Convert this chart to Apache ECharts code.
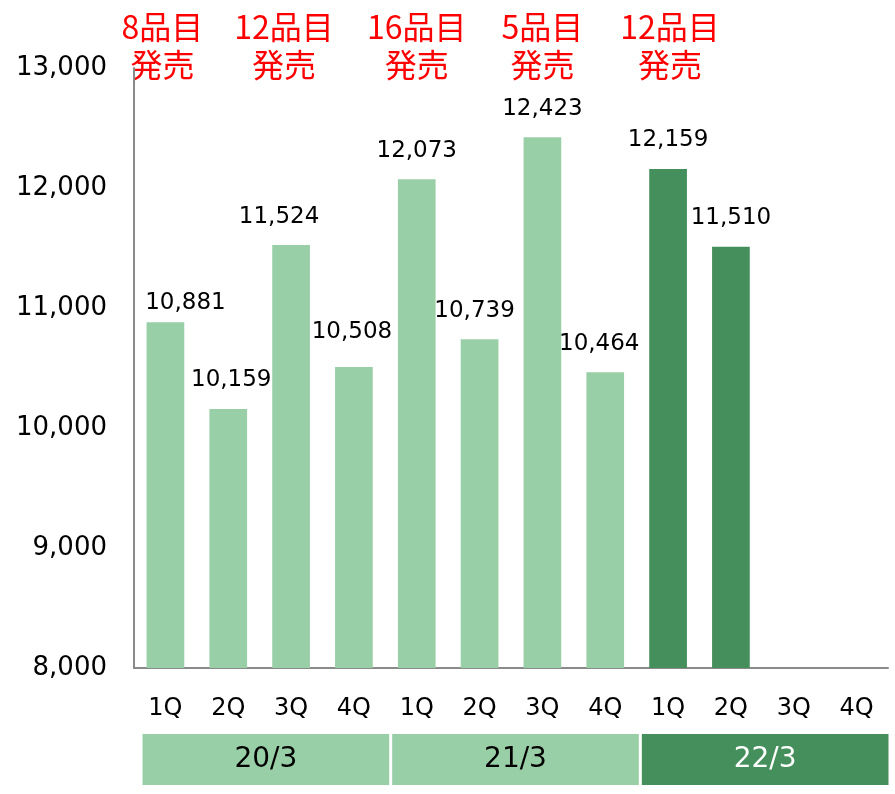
<!DOCTYPE html>
<html>
<head>
<meta charset="utf-8">
<script src="https://cdn.jsdelivr.net/npm/echarts@6/dist/echarts.min.js"></script>
<style>
  html, body { margin: 0; padding: 0; background: #fff; }
  #chart { width: 895px; height: 794px; }
</style>
</head>
<body>
<div id="chart"></div>
<script>
// quarters and sales values
const quarters = ['1Q', '2Q', '3Q', '4Q', '1Q', '2Q', '3Q', '4Q', '1Q', '2Q', '3Q', '4Q'];
const sales = [10881, 10159, 11524, 10508, 12073, 10739, 12423, 10464, 12159, 11510, null, null];
const fiscalYears = ['20/3', '21/3', '22/3'];
// annotation: category index -> text
const launchIdx = [0, 2, 4, 6, 8];
const launchText = ['8品目', '12品目', '16品目', '5品目', '12品目'];
const yTicks = [8000, 9000, 10000, 11000, 12000, 13000];

const LIGHT = '#99CFA7';
const DARK = '#448F5B';
const AXIS = '#8a8a8a';
const LATIN = '"DejaVu Sans", Verdana, sans-serif';
const CJK = '"Noto Sans CJK JP", sans-serif';

// hand nudges from the original slide ([dx, extra gap])
const labelNudge = { 0: [20, -9], 1: [3, 0], 2: [-12, 0], 3: [-2, 7], 5: [-5, 0], 7: [-6, 0] };
const noteNudgeX = { 0: -3, 1: -7, 4: 2 };

const chart = echarts.init(document.getElementById('chart'));

const fmt = v => String(v).replace(/\B(?=(\d{3})+(?!\d))/g, ',');

const option = {
  animation: false,
  grid: [
    { left: 134, right: 7, top: 68, bottom: 126 },
    { left: 141, right: 5, top: 734, height: 51 }
  ],
  xAxis: [{
    type: 'category',
    data: quarters,
    gridIndex: 0,
    axisLine: { lineStyle: { color: AXIS, width: 2 } },
    axisTick: { show: false },
    axisLabel: { color: '#000', fontSize: 24, fontFamily: LATIN, margin: 29 }
  }, {
    type: 'category',
    data: fiscalYears,
    gridIndex: 1,
    show: false
  }],
  yAxis: [{
    type: 'value',
    gridIndex: 0,
    min: yTicks[0],
    max: yTicks[yTicks.length - 1],
    interval: 1000,
    axisLine: { show: true, lineStyle: { color: AXIS, width: 2 } },
    axisTick: { show: false },
    splitLine: { show: false },
    axisLabel: { color: '#000', fontSize: 26, fontFamily: LATIN, margin: 27, formatter: fmt }
  }, {
    type: 'value',
    gridIndex: 1,
    min: 0,
    max: 1,
    show: false
  }],
  series: [{
    type: 'bar',
    xAxisIndex: 0,
    yAxisIndex: 0,
    barWidth: '60%',
    data: sales.map((v, i) => {
      const n = labelNudge[i] || [0, 0];
      return {
        value: v,
        itemStyle: { color: i >= 8 ? DARK : LIGHT },
        label: { distance: 17 + n[1], offset: [n[0], 0] }
      };
    }),
    label: {
      show: true,
      position: 'top',
      color: '#000',
      fontSize: 23,
      fontFamily: LATIN,
      formatter: p => fmt(p.value)
    }
  }, {
    type: 'bar',
    xAxisIndex: 1,
    yAxisIndex: 1,
    barWidth: '98.8%',
    data: fiscalYears.map((y, i) => ({
      value: 1,
      itemStyle: { color: i === 2 ? DARK : LIGHT },
      label: { color: i === 2 ? '#fff' : '#000' }
    })),
    label: {
      show: true,
      position: 'inside',
      fontSize: 28,
      fontFamily: LATIN,
      formatter: p => p.name
    }
  }]
};

chart.setOption(option);

// red annotations above selected bars
const graphics = launchIdx.map((idx, k) => {
  const x = chart.convertToPixel({ xAxisIndex: 0 }, idx);
  return {
    type: 'text',
    x: x + (noteNudgeX[k] || 0),
    y: 8,
    style: {
      text: launchText[k] + '\n発売',
      fill: '#FF0000',
      font: '32px ' + CJK,
      lineHeight: 38,
      align: 'center',
      verticalAlign: 'top'
    }
  };
});
chart.setOption({ graphic: graphics });
</script>
</body>
</html>
